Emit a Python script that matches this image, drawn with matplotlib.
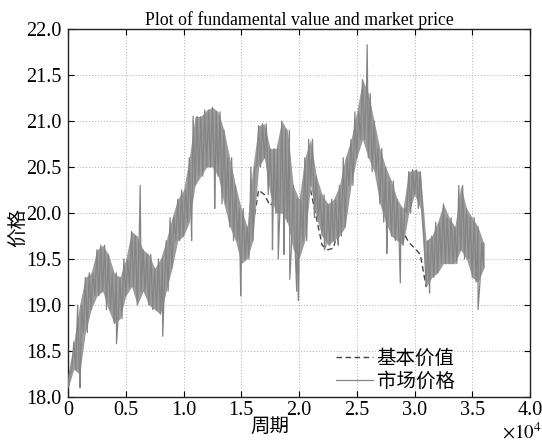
import matplotlib
matplotlib.use('Agg')
import matplotlib.pyplot as plt
import numpy as np

# ---- data ----
periods = np.arange(0, 36001, 500)
market_high = [18.25, 18.60, 19.00, 19.30, 19.35, 19.60, 19.65, 19.55, 19.35, 19.30,
               19.50, 19.80, 19.75, 19.60, 19.55, 19.40, 19.50, 19.70, 19.95, 20.15,
               20.25, 20.60, 21.05, 21.05, 21.12, 21.15, 21.10, 20.90, 20.60, 20.30,
               20.05, 19.85, 20.50, 20.95, 20.97, 20.70, 20.70, 21.00, 20.90, 20.30,
               20.15, 20.60, 20.80, 20.40, 20.20, 20.10, 20.15, 20.30, 20.60, 20.80,
               21.10, 21.45, 21.30, 21.00, 20.70, 20.50, 20.35, 20.15, 20.05, 20.45,
               20.47, 20.45, 19.70, 19.75, 19.90, 20.10, 19.95, 19.85, 20.30, 20.05,
               19.95, 19.85, 19.67]
market_low = [18.10, 18.30, 18.25, 18.70, 18.95, 19.10, 19.15, 18.95, 18.80, 18.85,
              19.10, 19.20, 19.00, 19.15, 19.00, 18.95, 18.90, 19.15, 19.40, 19.70,
              19.75, 19.90, 20.30, 20.40, 20.50, 20.50, 20.40, 20.10, 19.85, 19.70,
              19.45, 19.50, 19.70, 20.50, 20.60, 20.20, 20.00, 20.00, 19.90, 19.60,
              19.50, 19.70, 20.30, 19.95, 19.75, 19.65, 19.70, 19.75, 19.85, 20.30,
              20.60, 20.80, 20.60, 20.45, 20.10, 19.90, 19.75, 19.70, 19.65, 20.00,
              20.20, 20.05, 19.20, 19.30, 19.35, 19.45, 19.45, 19.45, 19.60, 19.50,
              19.30, 19.25, 19.40]
fundamental = [18.10, 18.40, 18.60, 19.00, 19.15, 19.30, 19.40, 19.20, 19.05, 19.10,
               19.30, 19.50, 19.40, 19.35, 19.30, 19.15, 19.20, 19.40, 19.70, 19.90,
               20.00, 20.25, 20.60, 20.75, 20.85, 20.85, 20.80, 20.50, 20.20, 20.00,
               19.70, 19.60, 19.85, 20.25, 20.20, 20.08, 20.15, 20.30, 20.20, 19.90,
               19.80, 20.30, 20.25, 19.95, 19.65, 19.60, 19.62, 19.92, 20.20, 20.45,
               20.72, 20.90, 20.85, 20.65, 20.40, 20.20, 20.00, 19.90, 19.80, 19.68,
               19.62, 19.55, 19.20, 19.35, 19.52, 19.50, 19.52, 19.65, 19.85, 19.60,
               19.52, 19.43, 19.50]
spike_periods = [1050, 4200, 6250, 8200, 10700, 12700, 14950, 17700, 18200, 18700,
                 19200, 19800, 19950, 22200, 23400, 25900, 27600, 28770, 31300, 35500]
spike_values = [18.10, 18.58, 20.30, 18.66, 19.70, 20.05, 19.10, 19.60, 19.50, 19.55,
                19.28, 19.15, 19.05, 19.60, 19.65, 21.83, 19.56, 19.24, 19.13, 18.95]

x_ticks = [0, 5000, 10000, 15000, 20000, 25000, 30000, 35000, 40000]
x_tick_labels = ['0', '0.5', '1.0', '1.5', '2.0', '2.5', '3.0', '3.5', '4.0']
y_ticks = [18.0, 18.5, 19.0, 19.5, 20.0, 20.5, 21.0, 21.5, 22.0]
y_tick_labels = ['18.0', '18.5', '19.0', '19.5', '20.0', '20.5', '21.0', '21.5', '22.0']

title = 'Plot of fundamental value and market price'
xlabel = '周期'
ylabel = '价格'
legend_labels = ['基本价值', '市场价格']

MARKET = '#848484'
BAND = '#9c9c9c'

# ---- market-price trace: strokes alternate between each bin's high and low,
#      plus isolated spikes ----
offsets = [-167, 0, 167]
mx, my = [], []
j = 0
for p, h, l in zip(periods, market_high, market_low):
    for off in offsets:
        mx.append(p + off)
        my.append(h if j % 2 == 0 else l)
        j += 1
mx += list(spike_periods)
my += list(spike_values)
mx = np.clip(np.array(mx, dtype=float), 0, 36000)
my = np.array(my)
order = np.argsort(mx, kind='stable')
mx, my = mx[order], my[order]

plt.rcParams['font.family'] = ['Liberation Serif', 'Noto Sans CJK SC']
plt.rcParams['mathtext.fontset'] = 'stix'

fig = plt.figure(figsize=(5.42, 4.43), dpi=100)
ax = fig.add_axes([0.1255, 0.1038, 0.8524, 0.8307])

ax.plot(periods, fundamental, color='#444444', linestyle=(0, (4, 2.5)), lw=1.0,
        label=legend_labels[0], zorder=2)
ax.fill_between(periods, market_low, market_high, color=BAND, lw=0, zorder=2.5)
ax.plot(mx, my, color=MARKET, lw=0.9, label=legend_labels[1], zorder=3)

ax.set_xlim(0, 40000)
ax.set_ylim(18, 22)
ax.set_xticks(x_ticks)
ax.set_xticklabels(x_tick_labels)
ax.set_yticks(y_ticks)
ax.set_yticklabels(y_tick_labels)
ax.tick_params(direction='in', top=True, right=True, length=4, width=0.8,
               labelsize=14.5, pad=3)
ax.tick_params(axis='y', pad=5)
ax.grid(True, linestyle=':', color='#bbbbbb', lw=0.8)
for s in ax.spines.values():
    s.set_linewidth(1.0)
    s.set_color('#222222')

ax.set_title(title, fontsize=12.8, pad=3)
ax.set_xlabel(xlabel, fontsize=14, family=['Noto Sans CJK SC'])
ax.xaxis.set_label_coords(0.437, -0.05)
ax.set_ylabel(ylabel, fontsize=14, family=['Noto Sans CJK SC'])
ax.yaxis.set_label_coords(-0.085, 0.46)
ax.text(1.024, -0.095, r'$\times 10^4$', transform=ax.transAxes, ha='right', va='center',
        fontsize=13.5)

leg = ax.legend(loc='lower right', bbox_to_anchor=(0.862, -0.018), frameon=False,
                prop={'family': ['Noto Sans CJK SC'], 'size': 14},
                handlelength=1.9, handletextpad=0.2, labelspacing=0.1, borderpad=0.1)

fig.savefig('out.png', dpi=100)
